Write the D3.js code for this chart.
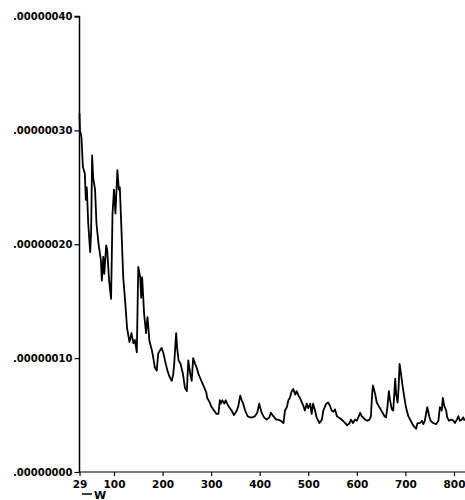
<!DOCTYPE html>
<html>
<head>
<meta charset="utf-8">
<script src="https://cdn.jsdelivr.net/npm/d3@7"></script>
<style>
  html, body { margin: 0; padding: 0; background: #fff; }
  svg { display: block; }
  text { font-family: "DejaVu Sans", sans-serif; font-weight: bold; fill: #000; }
</style>
</head>
<body>
<script>
// x positions (index) and values (units of 1e-8)
const xValues = [29,30,33,36,40,42,44,47,51,53,55,57,61,64,68,73,75,78,80,84,86,90,94,97,100,103,107,110,112,116,119,123,127,132,136,140,143,147,150,154,156,158,162,166,169,173,178,181,184,188,191,195,198,202,205,210,215,219,222,224,228,230,233,237,242,246,250,253,257,260,263,267,270,274,277,281,285,290,292,296,301,306,311,315,318,320,323,327,330,333,337,342,347,353,356,360,363,366,370,375,380,386,390,395,399,404,409,414,420,423,428,434,438,443,449,452,456,459,462,466,469,473,476,480,483,487,490,493,497,500,504,507,510,514,517,523,528,531,537,541,545,548,552,555,559,562,569,576,580,585,588,592,596,600,603,607,610,613,617,622,626,629,631,633,635,638,641,645,649,653,657,660,663,666,668,672,675,679,681,684,686,688,691,694,698,701,706,711,716,722,725,730,734,737,740,745,749,752,757,763,768,771,775,777,780,784,786,790,795,799,802,806,809,812,816,819,822];
const wValues = [31.5,30,29.4,26.8,26.2,23.9,25,21.8,19.3,21.2,27.8,25.9,24.8,21.8,20.1,18.6,16.8,18.9,17.4,19.9,19.5,16.8,15.2,22.7,24.8,22.7,26.5,24.8,25,20.6,17.1,15,12.6,11.4,12.2,11.3,11.6,10.5,18,17.1,15.3,17.1,13.9,12.2,13.6,11.5,10.7,10,9.2,8.9,10.4,10.7,10.9,10.4,9.8,8.9,8.3,8,8.6,9.5,12.2,10.9,9.8,9.5,8.6,7.4,7.1,9.8,8.6,8,10,9.5,9.2,8.6,8.3,7.9,7.5,7,6.5,6.2,5.7,5.4,5.1,5.1,6.3,6,6.3,6,6.3,6,5.7,5.4,5,5.4,5.8,6.7,6.3,6,5.4,4.9,4.8,4.8,4.9,5.2,6,5.2,4.8,4.6,4.8,5.2,4.9,4.6,4.6,4.5,4.3,5.4,5.7,6.3,6.5,7.1,7.3,6.8,7.1,6.7,6.5,6.1,5.8,5.4,6,5.6,6,5.1,6,5.4,4.8,4.3,4.6,5.4,6,6.1,5.8,5.4,5.3,5.5,4.9,4.8,4.6,4.3,4.1,4.3,4.6,4.3,4.6,4.5,4.8,5.2,4.9,4.8,4.6,4.5,4.6,4.9,6.5,7.6,7.3,6.8,6.1,5.8,5.5,5.2,4.9,4.8,5.7,7.1,6.4,5.5,5.4,8.2,6.8,6.1,7.4,9.5,8.6,7.6,6.5,5.7,4.9,4.5,4.1,3.8,4.3,4.3,4.5,4.2,4.5,5.7,4.9,4.5,4.3,4.2,4.5,5.7,5.4,6.5,5.8,5.4,4.8,4.5,4.6,4.5,4.3,4.6,4.9,4.5,4.6,4.8,4.5];
const xTicks = [29,100,200,300,400,500,600,700,800];
const yTicks = [0, 0.0000001, 0.0000002, 0.0000003, 0.0000004];
const yTickLabels = [".00000000", ".00000010", ".00000020", ".00000030", ".00000040"];
const seriesName = "W";

const W = 465, H = 500;
const mLeft = 79.5, mTop = 16.5, mBottom = 472, mRight = 465;

const n = Math.min(xValues.length, wValues.length);
const data = xValues.slice(0, n).map((x, i) => ({ x, y: wValues[i] * 1e-8 }));

const svg = d3.select("body").append("svg").attr("width", W).attr("height", H);

const x = d3.scaleLinear().domain([29, 822.7]).range([mLeft, mRight]);
const y = d3.scaleLinear().domain([0, 0.0000004]).range([mBottom, mTop]);

// y axis
const yAxis = d3.axisLeft(y).tickValues(yTicks)
  .tickFormat((d, i) => yTickLabels[i]).tickSize(5).tickPadding(2);
const gy = svg.append("g").attr("transform", `translate(${mLeft},0)`).call(yAxis);
gy.select(".domain").attr("stroke", "#000").attr("stroke-width", 1.5).attr("d", `M-5,${mTop}H0V${mBottom}`);
gy.selectAll(".tick line").attr("stroke", "#000").attr("stroke-width", 1.2);
gy.selectAll(".tick text").style("font-size", "10px").style("font-family", "DejaVu Sans").style("font-weight", "bold");

// x axis
const xAxis = d3.axisBottom(x).tickValues(xTicks).tickFormat(d3.format("d")).tickSize(4).tickPadding(5);
const gx = svg.append("g").attr("transform", `translate(0,${mBottom})`).call(xAxis);
gx.select(".domain").attr("stroke", "#000").attr("stroke-width", 1.2).attr("d", `M${mLeft},0H${mRight}`);
gx.selectAll(".tick line").attr("stroke", "#000").attr("stroke-width", 1.2);
gx.selectAll(".tick text").style("font-size", "10.5px").style("font-family", "DejaVu Sans").style("font-weight", "bold");

// line
const line = d3.line().x(d => x(d.x)).y(d => y(d.y));
svg.append("path").datum(data)
  .attr("fill", "none").attr("stroke", "#000").attr("stroke-width", 1.8)
  .attr("stroke-linejoin", "round")
  .attr("d", line);

// legend
const lg = svg.append("g").attr("transform", `translate(82,494)`);
lg.append("line").attr("x1", 0).attr("x2", 10).attr("y1", 0).attr("y2", 0)
  .attr("stroke", "#000").attr("stroke-width", 1.5);
lg.append("text").attr("x", 12).attr("y", 4.5).style("font-size", "11px").text(seriesName);
</script>
</body>
</html>
